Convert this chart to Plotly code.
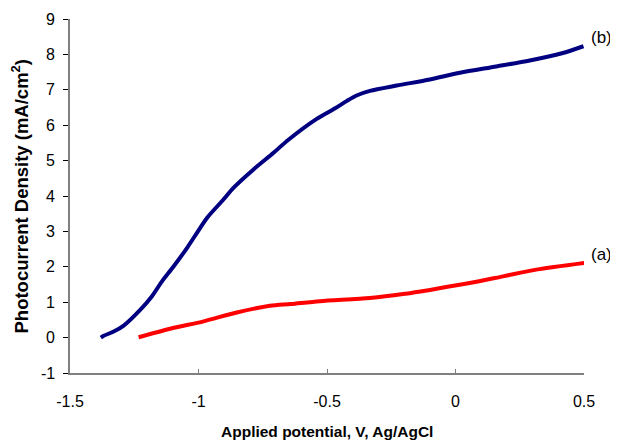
import plotly.graph_objects as go

# Curve (b) - blue
xb = [-1.380, -1.369, -1.330, -1.291, -1.226, -1.181, -1.142, -1.097, -1.045, -1.006, -0.967, -0.903,
      -0.864, -0.786, -0.708, -0.650, -0.540, -0.470, -0.424, -0.385, -0.333, -0.229, -0.100,
      0.017, 0.159, 0.289, 0.418, 0.498]
yb = [0.00, 0.05, 0.17, 0.34, 0.79, 1.17, 1.59, 2.01, 2.53, 2.96, 3.38, 3.90,
      4.23, 4.75, 5.22, 5.59, 6.18, 6.47, 6.68, 6.84, 6.97, 7.12, 7.29,
      7.48, 7.66, 7.83, 8.04, 8.23]

# Curve (a) - red
xa = [-1.233, -1.110, -0.980, -0.851, -0.722, -0.641, -0.528, -0.333, -0.204, -0.074,
      0.055, 0.185, 0.314, 0.502]
ya = [0.01, 0.25, 0.46, 0.71, 0.90, 0.95, 1.03, 1.12, 1.23, 1.38,
      1.54, 1.73, 1.92, 2.11]

x_ticks = [-1.5, -1, -0.5, 0, 0.5]
x_ticklabels = ["-1.5", "-1", "-0.5", "0", "0.5"]
y_ticks = list(range(-1, 10))
y_ticklabels = [str(v) for v in y_ticks]

x_title = "<b>Applied potential, V, Ag/AgCl</b>"
y_title = "<b>Photocurrent Density (mA/cm<sup>2</sup>)</b>"

FONT = "Liberation Sans, Arial, sans-serif"

fig = go.Figure()
fig.add_trace(go.Scatter(x=xa, y=ya, mode="lines", line=dict(color="#FF0000", width=4, shape="spline", smoothing=0.8),
                         showlegend=False, hoverinfo="skip", cliponaxis=False))
fig.add_trace(go.Scatter(x=xb, y=yb, mode="lines", line=dict(color="#000080", width=4, shape="spline", smoothing=0.8),
                         showlegend=False, hoverinfo="skip", cliponaxis=False))

fig.add_annotation(x=1.0, xref="paper", y=8.47, text="(b)", showarrow=False, xanchor="left", yanchor="middle",
                   xshift=5, font=dict(family=FONT, size=17, color="black"))
fig.add_annotation(x=1.0, xref="paper", y=2.34, text="(a)", showarrow=False, xanchor="left", yanchor="middle",
                   xshift=5, font=dict(family=FONT, size=17, color="black"))

# y tick labels (drawn as annotations so the top one is not hidden at the page edge)
for v, lab in zip(y_ticks, y_ticklabels):
    fig.add_annotation(x=0, xref="paper", y=v, yref="y", text=lab, showarrow=False,
                       xanchor="right", yanchor="middle", xshift=-13.5,
                       font=dict(family=FONT, size=16, color="black"))

# axis titles
fig.add_annotation(x=0.5, xref="paper", y=0, yref="paper", text=x_title, showarrow=False,
                   xanchor="center", yanchor="middle", yshift=-58.5,
                   font=dict(family=FONT, size=15.5, color="black"))
fig.add_annotation(x=0, xref="paper", y=0.5, yref="paper", text=y_title, showarrow=False, textangle=-90,
                   xanchor="center", yanchor="middle", xshift=-49.5, yshift=-1,
                   font=dict(family=FONT, size=18.5, color="black"))

# page body has an 8px margin; size the figure to compensate
fig.update_layout(
    width=610, height=435,
    margin=dict(l=61.5, r=34, t=11.3, b=69.7),
    plot_bgcolor="white", paper_bgcolor="white",
    font=dict(family=FONT, size=16, color="black"),
)
fig.update_xaxes(
    range=[-1.5, 0.5], tickvals=x_ticks, ticktext=x_ticklabels, automargin=False,
    showgrid=False, zeroline=False, showline=True, linecolor="#808080", linewidth=1.5,
    ticks="inside", ticklen=4, tickcolor="#808080", ticklabelstandoff=13,
)
fig.update_yaxes(
    range=[-1, 9], tickvals=y_ticks, showticklabels=False, automargin=False,
    showgrid=False, zeroline=False, showline=True, linecolor="#808080", linewidth=1.5,
    ticks="outside", ticklen=5, tickcolor="black",
)

fig.write_html("out.html")
